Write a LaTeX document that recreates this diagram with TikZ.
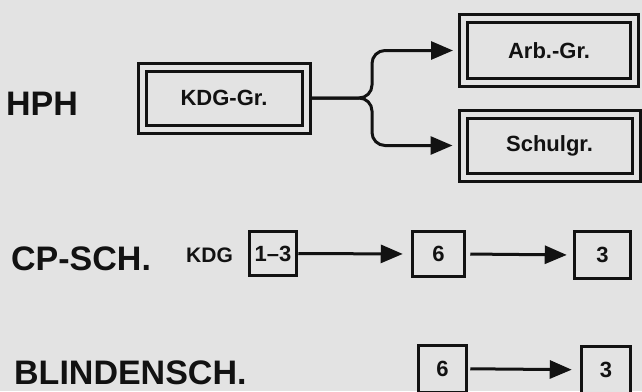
\documentclass[tikz,border=0pt]{standalone}
\usepackage{fontspec}
\setmainfont{Liberation Sans}
\usetikzlibrary{arrows.meta}
\definecolor{paper}{gray}{0.89}
\definecolor{ink}{gray}{0.07}

\begin{document}
\begin{tikzpicture}[x=1pt,y=-1pt]
\useasboundingbox (0,0) rectangle (642,391);
\clip (0,0) rectangle (642,391);
\fill[paper] (0,0) rectangle (642,391);
\tikzstyle{rowlabel}=[anchor=base west, inner sep=0pt, text=ink,
  font=\fontsize{34}{40}\selectfont\bfseries]
\tikzstyle{dbox}=[draw=ink, double=paper, double distance=5pt, line width=3pt,
  inner sep=0pt, outer sep=5.5pt, text=ink, font=\fontsize{22}{26}\selectfont\bfseries]
\tikzstyle{sbox}=[draw=ink, fill=paper, line width=3pt, inner sep=0pt,
  text=ink, font=\fontsize{22}{26}\selectfont\bfseries]
\tikzstyle{larrow}=[-{Triangle[length=22pt,width=18pt]}, line width=3pt, draw=ink]
% HPH row
\node[rowlabel] (Lh) at (6,115) {HPH};
\node[dbox, minimum width=164pt, minimum height=62pt] (K) at (224,98) {KDG-Gr.};
\node[dbox, minimum width=171pt, minimum height=64pt] (A) at (549,50.5) {Arb.-Gr.};
\node[dbox, minimum width=173pt, minimum height=63pt] (S) at (549.5,145.5) {Schulgr.};
\coordinate (J) at (372,98);
\draw[larrow, rounded corners=13pt, shorten >=5pt] (K.east) -- (J) |- (A.west);
\draw[larrow, rounded corners=13pt, shorten >=5pt] (K.east) -- (J) |- (S.west);
% CP-SCH. row
\node[rowlabel] (Lc) at (11,270) {CP-SCH.};
\node[rowlabel, font=\fontsize{21}{25}\selectfont\bfseries] (Lk) at (186,262) {KDG};
\node[sbox, minimum width=47.5pt, minimum height=44.5pt] (C1) at (273,253.5) {1--3};
\node[sbox, minimum width=52.5pt, minimum height=45.5pt] (C2) at (438.5,254) {6};
\node[sbox, minimum width=56.5pt, minimum height=47.5pt] (C3) at (602.5,255) {3};
\draw[larrow, shorten >=8pt] (C1.east) -- (C2.west);
\draw[larrow, shorten <=4pt, shorten >=6pt] (C2.east) -- (C3.west);
% BLINDENSCH. row
\node[rowlabel] (Lb) at (14,384) {BLINDENSCH.};
\node[sbox, minimum width=48.5pt, minimum height=47pt] (B1) at (442.5,368.75) {6};
\node[sbox, minimum width=49.5pt, minimum height=47pt] (B2) at (606,369.75) {3};
\draw[larrow, shorten <=2pt, shorten >=8pt] (B1.east) -- (B2.west);
\end{tikzpicture}
\end{document}
